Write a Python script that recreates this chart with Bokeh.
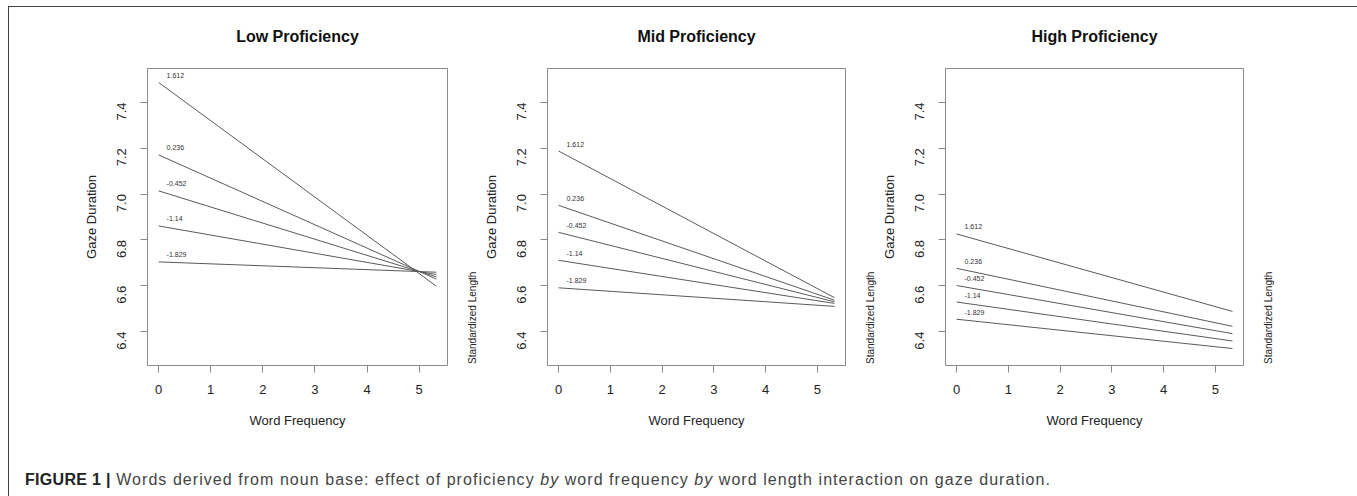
import math
from bokeh.plotting import figure
from bokeh.models import (Range1d, FixedTicker, CustomJSTickFormatter, LinearAxis, Div)
from bokeh.layouts import row, column
from bokeh.core.properties import value
from bokeh.embed import file_html
from bokeh.resources import INLINE

# ---------------- data ----------------
length_labels = ["1.612", "0.236", "-0.452", "-1.14", "-1.829"]
word_freq = [0.0, 5.33]

low_start = [7.487, 7.171, 7.014, 6.861, 6.704]
low_end = [6.598, 6.629, 6.639, 6.649, 6.659]

mid_start = [7.188, 6.951, 6.833, 6.711, 6.591]
mid_end = [6.548, 6.537, 6.530, 6.523, 6.510]

high_start = [6.826, 6.676, 6.601, 6.529, 6.454]
high_end = [6.488, 6.423, 6.391, 6.359, 6.326]

panel_titles = ["Low Proficiency", "Mid Proficiency", "High Proficiency"]
x_ticks = [0, 1, 2, 3, 4, 5]
y_ticks = [6.4, 6.6, 6.8, 7.0, 7.2, 7.4]
side_label = "Standardized Length"

FONT = "Liberation Sans"
FRAME_H = 297
X0, X1 = -0.2132, 5.5432
Y0, Y1 = 6.252, 7.548


def bare_axis(ax):
    ax.axis_line_color = None
    ax.major_tick_line_color = None
    ax.minor_tick_line_color = None
    ax.major_tick_out = 0
    ax.major_tick_in = 0
    ax.minor_tick_out = 0
    ax.minor_tick_in = 0


def make_panel(title, starts, ends, width, b_left, b_right, overlap=0):
    kw = {}
    if overlap:
        kw["styles"] = {"margin-left": "-%dpx" % overlap}
    p = figure(width=width, height=433, output_backend="svg", toolbar_location=None,
               x_range=Range1d(X0, X1), y_range=Range1d(Y0, Y1),
               min_border_left=b_left, min_border_right=b_right,
               min_border_top=61, min_border_bottom=75, **kw)

    p.xgrid.visible = False
    p.ygrid.visible = False
    p.outline_line_color = "#8a8a8a"
    p.outline_line_width = 1
    p.background_fill_color = "white"
    p.border_fill_color = None

    p.xaxis.ticker = FixedTicker(ticks=x_ticks)
    p.yaxis.ticker = FixedTicker(ticks=y_ticks)
    p.xaxis.formatter = CustomJSTickFormatter(code="return tick.toFixed(0);")
    p.yaxis.formatter = CustomJSTickFormatter(code="return tick.toFixed(1);")
    p.yaxis.major_label_orientation = math.pi / 2

    for ax in (p.xaxis, p.yaxis):
        ax.axis_line_color = None
        ax.major_tick_line_color = "#8a8a8a"
        ax.major_tick_out = 7
        ax.major_tick_in = 0
        ax.minor_tick_line_color = None
        ax.major_label_text_font = FONT
        ax.major_label_text_font_size = "13px"
        ax.major_label_text_color = "#222222"
        ax.axis_label_text_font = FONT
        ax.axis_label_text_font_size = "13px"
        ax.axis_label_text_font_style = "normal"
        ax.axis_label_text_color = "#222222"
    p.xaxis.major_label_standoff = 12
    p.xaxis.axis_label_standoff = 16
    p.yaxis.major_label_standoff = 19
    p.yaxis.axis_label_standoff = 11
    p.xaxis.axis_label = "Word Frequency"
    p.yaxis.axis_label = "Gaze Duration"

    # panel title (as a tick-less axis label above the frame)
    top = LinearAxis(ticker=FixedTicker(ticks=[]), axis_label=title)
    bare_axis(top)
    top.major_label_standoff = 0
    top.axis_label_standoff = 24
    top.axis_label_text_font = FONT
    top.axis_label_text_font_size = "16px"
    top.axis_label_text_font_style = "bold"
    top.axis_label_text_color = "#111111"
    p.add_layout(top, "above")

    # "Standardized Length" written at the right, reading upwards from the bottom
    label_start = Y0 + 1.5 * (Y1 - Y0) / FRAME_H
    right = LinearAxis(ticker=FixedTicker(ticks=[label_start]),
                       formatter=CustomJSTickFormatter(code="return '%s';" % side_label))
    bare_axis(right)
    right.major_label_orientation = math.pi / 2
    right.major_label_standoff = 25
    right.major_label_text_font = FONT
    right.major_label_text_font_size = "10px"
    right.major_label_text_color = "#222222"
    p.add_layout(right, "right")

    for s, e in zip(starts, ends):
        p.line(word_freq, [s, e], line_color="#5a5a5a", line_width=1)

    p.text(x=[word_freq[0]] * len(starts), y=starts, text=length_labels,
           x_offset=8, y_offset=-7, text_font=value(FONT), text_font_size="7px",
           text_color="#333333", text_align="left", text_baseline="middle")
    return p


f1 = make_panel(panel_titles[0], low_start, low_end, 477, 138, 39)
f2 = make_panel(panel_titles[1], mid_start, mid_end, 404, 65, 39, overlap=6)
f3 = make_panel(panel_titles[2], high_start, high_end, 476, 65, 111, overlap=6)

caption = Div(
    text=('<div style="margin-top:24px;margin-left:11px;white-space:nowrap;'
          'font-family:\'Liberation Sans\';font-size:16px;letter-spacing:1.05px;color:#444444;">'
          '<span style="font-weight:bold;color:#222222;letter-spacing:0.3px;">FIGURE 1 |</span> '
          'Words derived from noun base: effect of proficiency <i>by</i> word '
          'frequency <i>by</i> word length interaction on gaze duration.</div>'),
    width=1345, height=48)

layout = column(row(f1, f2, f3), caption,
                styles={"border-top": "1px solid #444444",
                        "border-left": "1px solid #444444",
                        "border-right": "1px solid #444444",
                        "margin-left": "8px",
                        "margin-top": "6px",
                        "background-color": "white"})

open("out.html", "w").write(file_html(layout, INLINE))
